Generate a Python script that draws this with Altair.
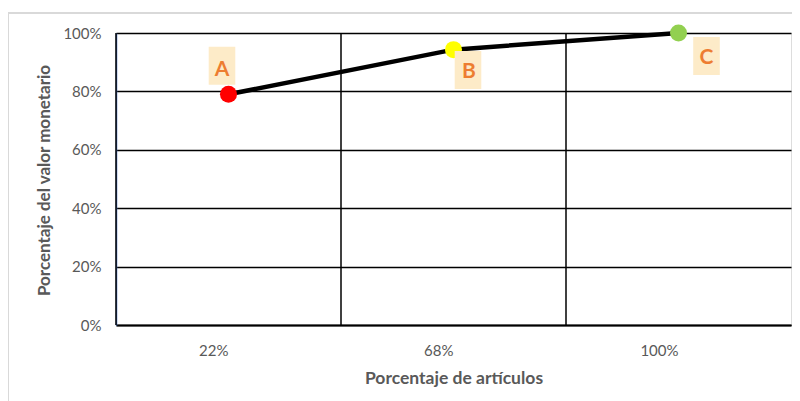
import altair as alt
import pandas as pd

categories = ["22%", "68%", "100%"]
values = [0.79, 0.943, 1.0]
point_colors = ["#FF0000", "#FFFF00", "#92D050"]
labels = ["A", "B", "C"]

df = pd.DataFrame({"cat": categories, "val": values, "color": point_colors, "label": labels})

FONT = "Lato"
GRAY = "#595959"

x_enc = alt.X("cat:N", sort=categories,
              axis=alt.Axis(title="Porcentaje de artículos", labelAngle=0, ticks=False,
                            labelPadding=25, labelFontSize=15, labelColor=GRAY, labelFont=FONT,
                            titleFontSize=17.5, titleFont=FONT, titleColor=GRAY, titleFontWeight="bold",
                            titlePadding=11, domainColor="black", domainWidth=2, grid=False),
              scale=alt.Scale(paddingInner=0, paddingOuter=0))
y_enc = alt.Y("val:Q",
              scale=alt.Scale(domain=[0, 1], nice=False),
              axis=alt.Axis(title="Porcentaje del valor monetario", format=".0%", values=[0, 0.2, 0.4, 0.6, 0.8, 1.0],
                            ticks=False, labelPadding=15, labelFontSize=15, labelColor=GRAY, labelFont=FONT,
                            titleFontSize=17, titleFont=FONT, titleColor=GRAY, titleFontWeight="bold",
                            titleX=-63, titleY=147, titleAngle=270, titleAlign="center", titleBaseline="bottom",
                            domainColor="#4472C4", domainWidth=1.5,
                            grid=True, gridColor="black", gridWidth=1.5))

base = alt.Chart(df)

vgrid = base.mark_rule(color="black", strokeWidth=1.5).encode(
    x=alt.X("cat:N", sort=categories, bandPosition=0)
)

line = base.mark_line(color="black", strokeWidth=4.5).encode(x=x_enc, y=y_enc)

points = base.mark_point(filled=True, size=290, opacity=1, strokeWidth=0).encode(
    x=alt.X("cat:N", sort=categories),
    y="val:Q",
    color=alt.Color("color:N", scale=None),
)

box_offsets = {"A": (-6.5, -28.5, -6.5, -24), "B": (14.5, 20.4, 15.5, 22), "C": (28, 23, 28, 24.5)}
rect_path = "M-0.7,-1H0.7V1H-0.7Z"

layers = [vgrid, line, points]
for lab in labels:
    bdx, bdy, tdx, tdy = box_offsets[lab]
    sub = base.transform_filter(alt.datum.label == lab)
    box = sub.mark_point(shape=rect_path, filled=True, size=1444, opacity=1, strokeWidth=0,
                         color="#FDEBC8", xOffset=bdx, yOffset=bdy).encode(
        x=alt.X("cat:N", sort=categories), y="val:Q")
    txt = sub.mark_text(font=FONT, fontSize=21, fontWeight="bold", color="#ED7D31",
                        baseline="middle", align="center", dx=tdx, dy=tdy).encode(
        x=alt.X("cat:N", sort=categories), y="val:Q", text="label:N")
    layers += [box, txt]

frame_top = alt.Chart(df).mark_rule(color="#D9D9D9", strokeWidth=1.5).encode(
    x=alt.value(-108), x2=alt.value(700), y=alt.value(-20))
frame_left = alt.Chart(df).mark_rule(color="#D9D9D9", strokeWidth=1.5).encode(
    x=alt.value(-108), y=alt.value(-20), y2=alt.value(400))
layers += [frame_top, frame_left]

chart = alt.layer(*layers).properties(
    width=675, height=292,
    padding={"left": 108, "top": 25, "right": 1, "bottom": 76},
    autosize=alt.AutoSizeParams(type="none"),
).configure_view(stroke="black", strokeWidth=1.5).configure(background="white")

chart.save("out.html", embed_options={"renderer": "svg", "actions": False})
